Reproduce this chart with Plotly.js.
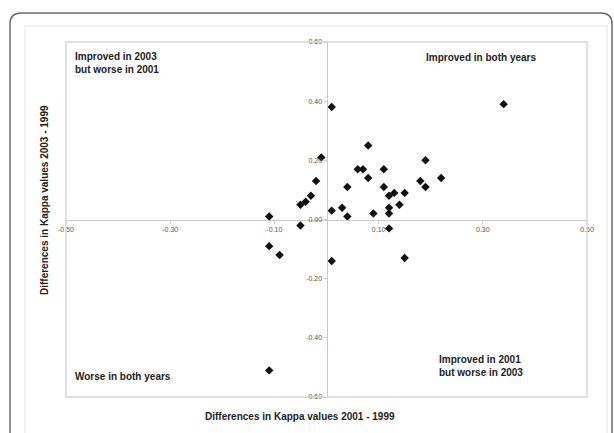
<!DOCTYPE html>
<html>
<head>
<meta charset="utf-8">
<script src="https://cdn.plot.ly/plotly-3.0.1.min.js"></script>
<style>
  html, body { margin: 0; padding: 0; background: #fff; }
  #chart { width: 614px; height: 433px; }
</style>
</head>
<body>
<div id="chart"></div>
<script>
// Data (differences in Kappa values)
const diff2001 = [-0.11, -0.05, -0.05, -0.04, -0.03, -0.02, -0.01, 0.01, 0.01, 0.03, 0.04, 0.04,
                  0.06, 0.07, 0.08, 0.08, 0.09, 0.11, 0.11, 0.12, 0.12, 0.12, 0.12, 0.13, 0.14,
                  0.15, 0.18, 0.19, 0.19, 0.22, -0.11, -0.09, 0.01, 0.15, 0.34, -0.11];
const diff2003 = [0.01, -0.02, 0.05, 0.06, 0.08, 0.13, 0.21, 0.38, 0.03, 0.04, 0.11, 0.01,
                  0.17, 0.17, 0.25, 0.14, 0.02, 0.17, 0.11, 0.08, 0.04, 0.02, -0.03, 0.09, 0.05,
                  0.09, 0.13, 0.20, 0.11, 0.14, -0.09, -0.12, -0.14, -0.13, 0.39, -0.51];

const xTickVals = [-0.5, -0.3, -0.1, 0.1, 0.3, 0.5];
const xTickText = ["-0.50", "-0.30", "-0.10", "0.10", "0.30", "0.50"];
const yTickVals = [-0.6, -0.4, -0.2, 0.0, 0.2, 0.4, 0.6];
const yTickText = ["-0.60", "-0.40", "-0.20", "0.00", "0.20", "0.40", "0.60"];

const xTitle = "Differences in Kappa values 2001 - 1999";
const yTitle = "Differences in Kappa values 2003 - 1999";
const quadrantLabels = [
  "Improved in 2003<br>but worse in 2001",
  "Improved in both years",
  "Worse in both years",
  "Improved in 2001<br>but worse in 2003"
];

// pixel -> paper helpers (plot area 66..587 x 42..397)
const L = 66, R = 587, T = 42, B = 397;
const W = R - L, H = B - T;
const fx = px => (px - L) / W;
const fy = py => (B - py) / H;

function roundedRect(x0, y0, x1, y1, r) {
  const rx = r / W, ry = r / H;
  const X0 = fx(x0), X1 = fx(x1), Y0 = fy(y0), Y1 = fy(y1);
  return `M${X0},${Y1} L${X0},${Y0 - ry} Q${X0},${Y0} ${X0 + rx},${Y0} ` +
         `L${X1 - rx},${Y0} Q${X1},${Y0} ${X1},${Y0 - ry} L${X1},${Y1}`;
}

const font = "Liberation Sans, Arial, sans-serif";

const trace = {
  x: diff2001, y: diff2003,
  type: "scatter", mode: "markers",
  marker: { symbol: "diamond", size: 6.5, color: "#111" },
  hoverinfo: "x+y"
};

const axisCommon = {
  showgrid: false, zeroline: false, showline: true,
  linecolor: "#c9c9c9", linewidth: 1,
  ticks: "outside", ticklen: 3, tickcolor: "#c9c9c9",
  tickfont: { family: font, size: 7, color: "#555" },
  tickmode: "array", anchor: "free", position: 0.5, fixedrange: true
};

const layout = {
  width: 614, height: 433,
  margin: { l: L, r: 614 - R, t: T, b: 433 - B },
  paper_bgcolor: "#fff", plot_bgcolor: "#fff",
  showlegend: false,
  xaxis: Object.assign({}, axisCommon, { range: [-0.5, 0.5], tickvals: xTickVals, ticktext: xTickText }),
  yaxis: Object.assign({}, axisCommon, { range: [-0.6, 0.6], tickvals: yTickVals, ticktext: yTickText }),
  shapes: [
    { type: "path", xref: "paper", yref: "paper", path: roundedRect(10, 13, 612, 445, 11),
      line: { color: "#6a6a6a", width: 1.5 } },
    { type: "rect", xref: "paper", yref: "paper", x0: fx(25), x1: fx(607), y0: fy(445), y1: fy(26),
      line: { color: "#e4e4e4", width: 1 } },
    { type: "rect", xref: "paper", yref: "paper", x0: 0, x1: 1, y0: 0, y1: 1,
      line: { color: "#d6d6d6", width: 1.5 } }
  ],
  annotations: [
    { xref: "paper", yref: "paper", x: fx(300), y: fy(416), text: "<b>" + xTitle + "</b>",
      showarrow: false, xanchor: "center", yanchor: "middle",
      font: { family: font, size: 10, color: "#222" } },
    { xref: "paper", yref: "paper", x: fx(44), y: fy(200), text: "<b>" + yTitle + "</b>",
      showarrow: false, textangle: -90, xanchor: "center", yanchor: "middle",
      font: { family: font, size: 10, color: "#222" } },
    { xref: "paper", yref: "paper", x: fx(73), y: fy(49), text: "<b>" + quadrantLabels[0] + "</b>",
      showarrow: false, xanchor: "left", yanchor: "top", align: "left",
      font: { family: font, size: 10, color: "#222" } },
    { xref: "paper", yref: "paper", x: fx(481), y: fy(57), text: "<b>" + quadrantLabels[1] + "</b>",
      showarrow: false, xanchor: "center", yanchor: "middle",
      font: { family: font, size: 10, color: "#222" } },
    { xref: "paper", yref: "paper", x: fx(73), y: fy(376), text: "<b>" + quadrantLabels[2] + "</b>",
      showarrow: false, xanchor: "left", yanchor: "middle", align: "left",
      font: { family: font, size: 10, color: "#222" } },
    { xref: "paper", yref: "paper", x: fx(437), y: fy(352), text: "<b>" + quadrantLabels[3] + "</b>",
      showarrow: false, xanchor: "left", yanchor: "top", align: "left",
      font: { family: font, size: 10, color: "#222" } }
  ]
};

Plotly.newPlot("chart", [trace], layout, { displayModeBar: false, staticPlot: true });
</script>
</body>
</html>
